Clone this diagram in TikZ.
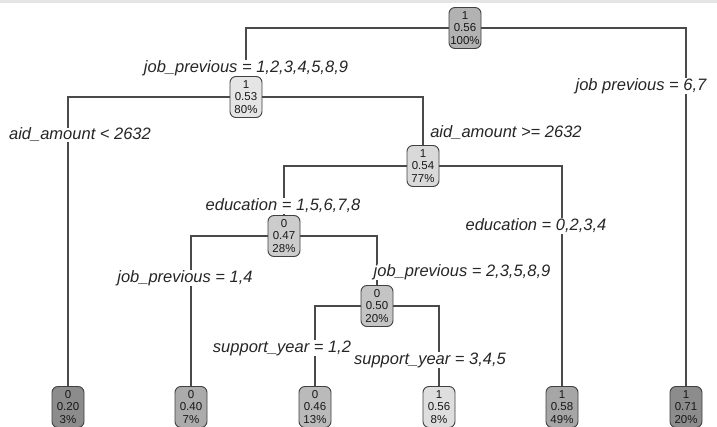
\documentclass[tikz,border=0pt]{standalone}
\usepackage{fontspec}
\setmainfont{Liberation Sans}
\definecolor{edgegray}{HTML}{4A4A4A}

\begin{document}
\begin{tikzpicture}[x=1pt, y=-1pt,
    tnode/.style={draw=black!75, line width=0.9pt, rounded corners=6pt,
      minimum width=32pt, minimum height=41pt, inner sep=0.5pt, align=center,
      font=\fontsize{11.5}{12.5}\selectfont, text=black!90},
    splitlabel/.style={font=\fontsize{16.5}{16.5}\selectfont\itshape, fill=white,
      inner sep=0.5pt, text=black!85},
    edge/.style={draw=edgegray, line width=1.4pt}]
  \useasboundingbox[fill=white] (0,0) rectangle (717,427);
  \fill[black!10] (0,0) rectangle (717,3);
  % Split nodes.
  \node[tnode, fill=black!30] (n1) at (465,28)  {1\\0.56\\100\%};
  \node[tnode, fill=black!10] (n2) at (246,97)  {1\\0.53\\80\%};
  \node[tnode, fill=black!15] (n3) at (423,166) {1\\0.54\\77\%};
  \node[tnode, fill=black!20] (n4) at (284,236) {0\\0.47\\28\%};
  \node[tnode, fill=black!23] (n5) at (377,306) {0\\0.50\\20\%};
  % Leaves.
  \node[tnode, fill=black!45] (l1) at (68,407)  {0\\0.20\\3\%};
  \node[tnode, fill=black!33] (l2) at (191,407) {0\\0.40\\7\%};
  \node[tnode, fill=black!27] (l3) at (315,407) {0\\0.46\\13\%};
  \node[tnode, fill=black!13] (l4) at (439,407) {1\\0.56\\8\%};
  \node[tnode, fill=black!35] (l5) at (562,407) {1\\0.58\\49\%};
  \node[tnode, fill=black!45] (l6) at (686,407) {1\\0.71\\20\%};
  % Branches.
  \draw[edge] (n2) |- (n1) -| (l6);
  \draw[edge] (l1) |- (n2) -| (n3);
  \draw[edge] (n4) |- (n3) -| (l5);
  \draw[edge] (l2) |- (n4) -| (n5);
  \draw[edge] (l3) |- (n5) -| (l4);
  % Split labels.
  \node[splitlabel] (s1) at (246,68)  {job\_previous = 1,2,3,4,5,8,9};
  \node[splitlabel] (s2) at (641,86)  {job previous = 6,7};
  \node[splitlabel] (s3) at (80,135)  {aid\_amount < 2632};
  \node[splitlabel] (s4) at (506,133) {aid\_amount >= 2632};
  \node[splitlabel] (s5) at (283,206) {education = 1,5,6,7,8};
  \node[splitlabel] (s6) at (536,226) {education = 0,2,3,4};
  \node[splitlabel] (s7) at (185,278) {job\_previous = 1,4};
  \node[splitlabel] (s8) at (462,272) {job\_previous = 2,3,5,8,9};
  \node[splitlabel] (s9) at (282,348) {support\_year = 1,2};
  \node[splitlabel] (s10) at (430,360) {support\_year = 3,4,5};
\end{tikzpicture}
\end{document}
